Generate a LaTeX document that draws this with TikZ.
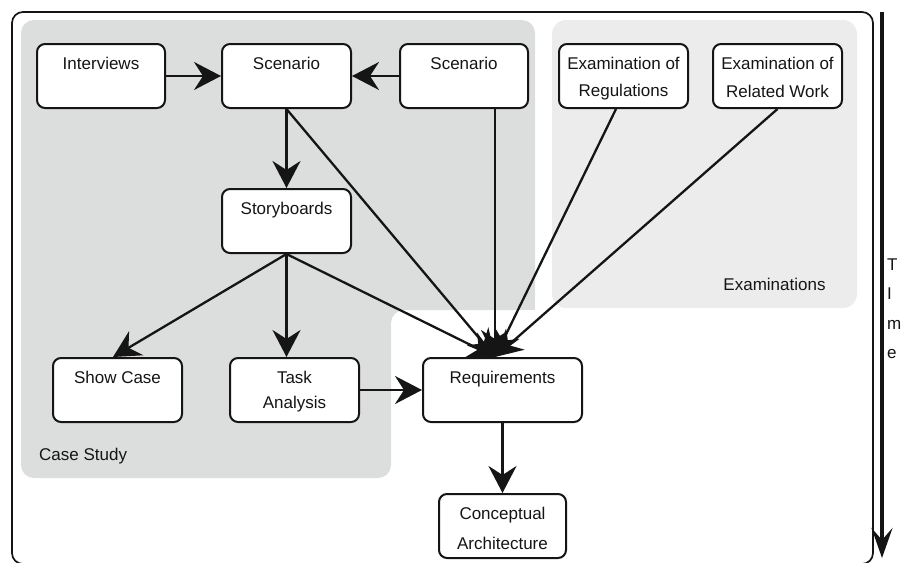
\documentclass[tikz,border=0pt]{standalone}
\usepackage{fontspec}
\setmainfont{Liberation Sans}
\usetikzlibrary{arrows.meta,calc}

\definecolor{casegray}{HTML}{DCDDDD}
\definecolor{examgray}{HTML}{ECECEC}
\definecolor{ink}{HTML}{151515}

% box text: first baseline 25pt below the top edge of a 64pt high box
\newcommand{\btext}[2]{\parbox[t][64pt][t]{#1}{\centering\rule{0pt}{25pt}#2}}

\tikzset{
  stepbox/.style={draw=ink, fill=white, rounded corners=8pt, line width=2pt,
    inner sep=0pt, minimum height=64pt, text=ink,
    font=\fontsize{17}{27}\selectfont},
  conn/.style={draw=ink, line width=2.3pt,
    -{Stealth[length=27pt,width=28pt,inset=9pt]}},
  arealabel/.style={inner sep=0pt, text=ink, font=\fontsize{17}{20}\selectfont},
}

\begin{document}
\begin{tikzpicture}[x=1pt,y=-1pt]
\useasboundingbox (0,0) rectangle (907,562);

% grouping areas
\fill[casegray, rounded corners=13pt]
  (21,20) -- (535,20) -- (535,310) -- (391,310) -- (391,478) -- (21,478) -- cycle;
\fill[casegray] (515,290) rectangle (535,310);
\fill[examgray, rounded corners=14pt] (552,20) rectangle (857,308);

% outer frame
\draw[ink, line width=1.7pt, rounded corners=11pt] (12,12) rectangle (873,564);

% time axis
\coordinate (ttop) at (882,12);
\coordinate (tbot) at (882,558);
\draw[ink, line width=3.5pt, -{Stealth[length=30pt,width=21pt,inset=12pt]}] (ttop) -- (tbot);
\node[arealabel, anchor=base west] (timelabel) at (887,270)
  {\fontsize{17}{29.5}\selectfont\parbox[t]{20pt}{\raggedright T\\I\\m\\e}};

% area labels
\node[arealabel, anchor=base west] (caselabel) at (39,460) {Case Study};
\node[arealabel, anchor=base] (examlabel) at (774.5,290) {Examinations};

% steps
\node[stepbox, minimum width=128pt] (interviews) at (101,76) {\btext{128pt}{Interviews}};
\node[stepbox, minimum width=129pt] (scen1) at (286.5,76) {\btext{129pt}{Scenario}};
\node[stepbox, minimum width=128pt] (scen2) at (464,76) {\btext{128pt}{Scenario}};
\node[stepbox, minimum width=129pt] (reg) at (623.5,76) {\btext{129pt}{Examination of\\Regulations}};
\node[stepbox, minimum width=129pt] (rel) at (777.5,76) {\btext{129pt}{Examination of\\[1pt]Related Work}};
\node[stepbox, minimum width=129pt] (story) at (286.5,221) {\btext{129pt}{Storyboards}};
\node[stepbox, minimum width=129pt] (show) at (117.5,390) {\btext{129pt}{Show Case}};
\node[stepbox, minimum width=129pt] (task) at (294.5,390) {\btext{129pt}{Task\\[-2pt]Analysis}};
\node[stepbox, minimum width=159pt] (req) at (502.5,390) {\btext{159pt}{Requirements}};
\node[stepbox, minimum width=127pt] (concept) at (502.5,526) {\btext{127pt}{Conceptual\\[3pt]Architecture}};

% connectors
\draw[conn] (interviews.east) -- (scen1.west);
\draw[conn] (scen2.west) -- (scen1.east);
\draw[conn] (scen1.south) -- (story.north);
\draw[conn] (scen1.south) -- ($(req.north)+(-7.5,0)$);
\draw[conn] ($(scen2.south)+(31,0)$) -- ($(req.north)+(-7.5,0)$);
\draw[conn] ($(reg.south)+(-7.5,0)$) -- ($(req.north)+(-7.5,0)$);
\draw[conn] (rel.south) -- ($(req.north)+(-7.5,0)$);
\draw[conn] (story.south) -- ($(req.north)+(-7.5,0)$);
\draw[conn] (story.south) -- ($(show.north)+(-4.5,0)$);
\draw[conn] (story.south) -- (story.south |- task.north);
\draw[conn] (task.east) -- (req.west);
\draw[conn] (req.south) -- (concept.north);
\end{tikzpicture}
\end{document}
